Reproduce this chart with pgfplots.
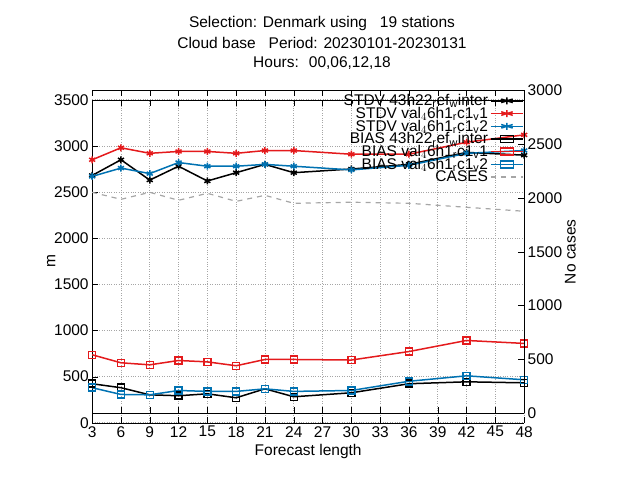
\documentclass[border=0pt]{standalone}
\usepackage{pgfplots}
\pgfplotsset{compat=1.18}
\usepackage{fontspec}
\setmainfont{Liberation Sans}
\definecolor{gred}{HTML}{E41A1C}
\definecolor{gblue}{HTML}{0072B2}
\begin{document}
\begin{tikzpicture}[x=1pt,y=1pt,font=\fontsize{15.5}{18}\selectfont]
\useasboundingbox (0,0) rectangle (640,480);
\node at (322,457) {Selection: Denmark using \ \ 19 stations};
\node at (322,437) {Cloud base \ \ Period: 20230101-20230131};
\node at (322,417) {Hours: \ 00,06,12,18};
\pgfplotsset{every axis/.style={at={(96,62)},anchor=south west,width=432pt,height=323pt,scale only axis,
  xmin=3,xmax=48,xtick={3,6,...,48},axis x line*=box,
  tick label style={font=\fontsize{15.5}{18}\selectfont},
  label style={font=\fontsize{15.5}{18}\selectfont},
  /pgf/number format/assume math mode=true,
  major tick length=6pt, tick style={black}}}
\begin{axis}[ymin=0,ymax=3500,ytick={0,500,...,3500},axis y line*=left,
  grid=major,grid style={gray!70,dotted,line width=0.8pt},
  xlabel={Forecast length},ylabel={m},
  ylabel style={yshift=-8pt},
  /pgf/number format/1000 sep={},
  every axis plot/.append style={line width=1.5pt,mark size=3.5pt}]
\addplot[black,mark=asterisk] coordinates {(3,2680)(6,2850)(9,2630)(12,2780)(15,2620)(18,2710)(21,2800)(24,2710)(30,2750)(36,2800)(42,2930)(48,2900)};
\addplot[gred,mark=asterisk] coordinates {(3,2850)(6,2980)(9,2920)(12,2940)(15,2940)(18,2920)(21,2950)(24,2950)(30,2910)(36,2910)(42,3040)(48,3120)};
\addplot[gblue,mark=asterisk] coordinates {(3,2670)(6,2760)(9,2700)(12,2820)(15,2780)(18,2780)(21,2800)(24,2780)(30,2740)(36,2790)(42,2920)(48,2950)};
\addplot[black,mark=square] coordinates {(3,423)(6,380)(9,303)(12,293)(15,314)(18,271)(21,368)(24,282)(30,325)(36,423)(42,444)(48,433)};
\addplot[gred,mark=square] coordinates {(3,737)(6,650)(9,628)(12,675)(15,660)(18,618)(21,686)(24,686)(30,680)(36,772)(42,892)(48,860)};
\addplot[gblue,mark=square] coordinates {(3,380)(6,307)(9,303)(12,350)(15,340)(18,340)(21,368)(24,340)(30,350)(36,450)(42,509)(48,466)};
\end{axis}
\begin{axis}[ymin=0,ymax=3000,ytick={0,500,...,3000},axis y line*=right,
  xticklabels={},
  ylabel={No cases},ylabel style={yshift=4pt},
  /pgf/number format/1000 sep={},
  legend style={draw=none,fill=none,at={(1,1)},anchor=north east,font=\fontsize{15.5}{18}\selectfont,row sep=-4pt,inner xsep=0pt},
  legend cell align=right,legend plot pos=right,
  legend image post style={xscale=1.9},
  every axis plot/.append style={line width=1.5pt,mark size=3.5pt}]
\addlegendimage{black,mark=asterisk,line width=1.5pt,mark size=3.5pt}
\addlegendentry{STDV 43h22$_{\mathrm{r}}$ef$_{\mathrm{w}}$inter}
\addlegendimage{gred,mark=asterisk,line width=1.5pt,mark size=3.5pt}
\addlegendentry{STDV val$_{4}$6h1$_{\mathrm{r}}$c1$_{\mathrm{v}}$1}
\addlegendimage{gblue,mark=asterisk,line width=1.5pt,mark size=3.5pt}
\addlegendentry{STDV val$_{4}$6h1$_{\mathrm{r}}$c1$_{\mathrm{v}}$2}
\addlegendimage{black,mark=square,line width=1.5pt,mark size=3.5pt}
\addlegendentry{BIAS 43h22$_{\mathrm{r}}$ef$_{\mathrm{w}}$inter}
\addlegendimage{gred,mark=square,line width=1.5pt,mark size=3.5pt}
\addlegendentry{BIAS val$_{4}$6h1$_{\mathrm{r}}$c1$_{\mathrm{v}}$1}
\addlegendimage{gblue,mark=square,line width=1.5pt,mark size=3.5pt}
\addlegendentry{BIAS val$_{4}$6h1$_{\mathrm{r}}$c1$_{\mathrm{v}}$2}
\addplot[gray!70,line width=1.2pt,no marks,dash pattern=on 5pt off 5pt] coordinates {(3,2052)(6,1987)(9,2052)(12,1978)(15,2043)(18,1968)(21,2024)(24,1950)(30,1960)(36,1950)(42,1913)(48,1876)};
\addlegendentry{CASES}
\end{axis}
\end{tikzpicture}
\end{document}
